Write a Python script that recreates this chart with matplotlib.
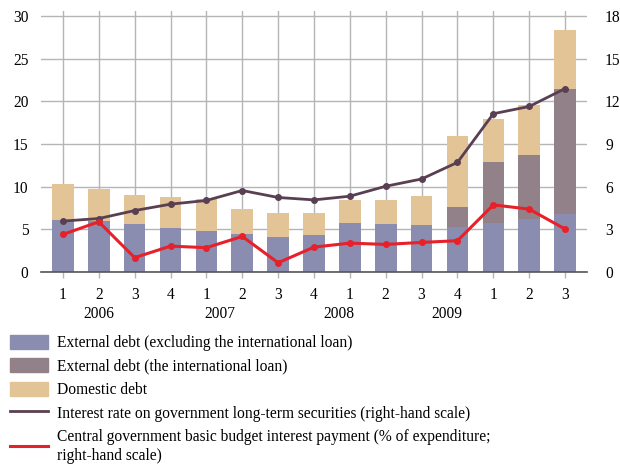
import matplotlib
matplotlib.use("Agg")
import matplotlib.pyplot as plt
import numpy as np
from matplotlib.patches import Patch
from matplotlib.lines import Line2D

plt.rcParams["font.family"] = ["Liberation Serif", "DejaVu Serif"]

# quarters 2006Q1 .. 2009Q3
quarters = ["1", "2", "3", "4", "1", "2", "3", "4", "1", "2", "3", "4", "1", "2", "3"]
years = ["2006", "2007", "2008", "2009"]
year_pos = [1.0, 4.37, 7.7, 10.7]

ext_debt = [6.15, 5.96, 5.57, 5.10, 4.75, 4.40, 4.05, 4.29, 5.69, 5.57, 5.45, 5.22, 5.80, 6.27, 6.74]
ext_loan_top = [6.15, 5.96, 5.57, 5.10, 4.75, 4.40, 4.05, 4.29, 5.69, 5.57, 5.45, 7.67, 12.93, 13.75, 21.47]
total_top = [10.36, 9.78, 9.08, 8.84, 8.60, 7.44, 6.86, 6.97, 8.38, 8.49, 8.96, 15.97, 17.96, 19.60, 28.36]

rate_lt = [3.58, 3.76, 4.32, 4.77, 5.03, 5.73, 5.24, 5.07, 5.33, 6.03, 6.54, 7.71, 11.13, 11.64, 12.90]
interest_pay = [2.64, 3.53, 1.01, 1.82, 1.71, 2.50, 0.65, 1.75, 2.03, 1.94, 2.08, 2.20, 4.72, 4.42, 3.02]

ext_loan = [b - a for a, b in zip(ext_debt, ext_loan_top)]
domestic = [c - b for b, c in zip(ext_loan_top, total_top)]

C_EXT = "#8a8cb0"
C_LOAN = "#93818a"
C_DOM = "#e2c497"
C_RATE = "#5a3f52"
C_PAY = "#e8202a"
GRID = "#b5b5b5"

fig = plt.figure(figsize=(6.2, 4.67), dpi=100)
ax = fig.add_axes([41 / 620, 1 - 272 / 467, 546 / 620, 261.1 / 467])
x = np.arange(len(quarters))
w = 0.6

ax.bar(x, ext_debt, w, color=C_EXT, zorder=2)
ax.bar(x, ext_loan, w, bottom=ext_debt, color=C_LOAN, zorder=2)
ax.bar(x, domestic, w, bottom=ext_loan_top, color=C_DOM, zorder=2)

ax.set_xlim(-0.61, 14.61)
ax.set_ylim(0, 30.6)
ax.set_yticks(np.arange(0, 31, 5))
ax.set_xticks(x)
ax.set_xticklabels(quarters)
ax.grid(True, color=GRID, lw=1.0, zorder=0)
ax.set_axisbelow(True)
for s in ["top", "right", "left"]:
    ax.spines[s].set_visible(False)
ax.spines["bottom"].set_color("#555555")
ax.spines["bottom"].set_linewidth(1.2)
ax.spines["bottom"].set_zorder(3)
ax.tick_params(axis="x", direction="out", length=4, color=GRID, width=1.0,
               labelsize=11.2, pad=7)
ax.tick_params(axis="y", length=0, labelsize=11.2, pad=9)

for yr, p in zip(years, year_pos):
    ax.text(p, -4.9, yr, ha="center", va="center", fontsize=11.2)

ax2 = ax.twinx()
ax2.set_ylim(0, 18.36)
ax2.set_yticks(np.arange(0, 19, 3))
ax2.tick_params(axis="y", length=0, labelsize=11.2, pad=13)
for s in ax2.spines.values():
    s.set_visible(False)

ax2.plot(x, rate_lt, color=C_RATE, lw=2.0, marker="o", ms=4, zorder=4)
ax2.plot(x, interest_pay, color=C_PAY, lw=2.2, marker="o", ms=4, zorder=5)

handles = [
    Patch(color=C_EXT),
    Patch(color=C_LOAN),
    Patch(color=C_DOM),
    Line2D([], [], color=C_RATE, lw=2.0),
    Line2D([], [], color=C_PAY, lw=2.2),
]
labels = [
    "External debt (excluding the international loan)",
    "External debt (the international loan)",
    "Domestic debt",
    "Interest rate on government long-term securities (right-hand scale)",
    "Central government basic budget interest payment (% of expenditure;\nright-hand scale)",
]
leg = fig.legend(handles, labels, loc="upper left", bbox_to_anchor=(10 / 620, 1 - 335 / 467),
                 frameon=False, fontsize=11.2, handlelength=2.45, handleheight=1.0,
                 handletextpad=0.6, labelspacing=0.46, borderpad=0, borderaxespad=0)
for t in leg.get_texts():
    t.set_linespacing(1.3)

fig.savefig("out.png", dpi=100)
